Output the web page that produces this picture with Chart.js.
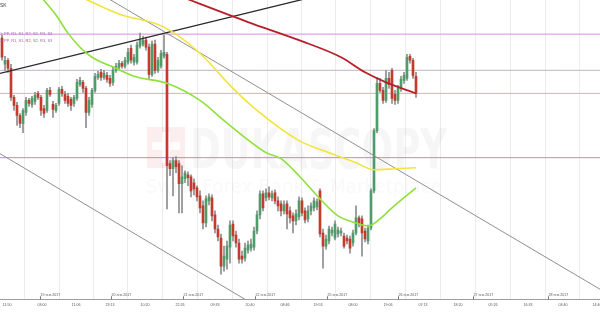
<!DOCTYPE html>
<html>
<head>
<meta charset="utf-8">
<script src="https://cdn.jsdelivr.net/npm/chart.js@4.4.1/dist/chart.umd.min.js"></script>
<style>
    html, body { margin: 0; padding: 0; background: #fff; }
    canvas { display: block; }
</style>
</head>
<body>
<canvas id="chart" width="600" height="320"></canvas>
<script>
// hourly candles
const openP = [
    1.0762, 1.0736, 1.0740, 1.0732, 1.0703, 1.0695, 1.0685, 1.0677, 1.0688, 1.0700,
    1.0696, 1.0699, 1.0707, 1.0703, 1.0692, 1.0690, 1.0710, 1.0696, 1.0690, 1.0697,
    1.0711, 1.0706, 1.0704, 1.0701, 1.0697, 1.0702, 1.0716, 1.0718, 1.0712, 1.0688,
    1.0696, 1.0710, 1.0723, 1.0728, 1.0723, 1.0725, 1.0722, 1.0718, 1.0730, 1.0733,
    1.0737, 1.0734, 1.0738, 1.0752, 1.0738, 1.0738, 1.0754, 1.0756, 1.0760, 1.0753,
    1.0726, 1.0756, 1.0730, 1.0734, 1.0744, 1.0746, 1.0637, 1.0632, 1.0640, 1.0637,
    1.0617, 1.0622, 1.0626, 1.0624, 1.0618, 1.0613, 1.0605, 1.0595, 1.0578, 1.0600,
    1.0603, 1.0586, 1.0572, 1.0563, 1.0535, 1.0542, 1.0554, 1.0577, 1.0566, 1.0558,
    1.0545, 1.0543, 1.0551, 1.0553, 1.0554, 1.0570, 1.0586, 1.0607, 1.0603, 1.0608,
    1.0603, 1.0608, 1.0600, 1.0597, 1.0590, 1.0597, 1.0590, 1.0585, 1.0580, 1.0584,
    1.0600, 1.0590, 1.0582, 1.0590, 1.0593, 1.0594, 1.0610, 1.0568, 1.0555, 1.0560,
    1.0568, 1.0563, 1.0567, 1.0568, 1.0565, 1.0563, 1.0562, 1.0558, 1.0568, 1.0583,
    1.0582, 1.0570, 1.0560, 1.0573, 1.0610, 1.0670, 1.0717, 1.0710, 1.0700, 1.0722,
    1.0730, 1.0706, 1.0700, 1.0712, 1.0720, 1.0722, 1.0744, 1.0740, 1.0724
];
const closeP = [
    1.0743, 1.0740, 1.0732, 1.0703, 1.0695, 1.0685, 1.0677, 1.0690, 1.0700, 1.0697,
    1.0702, 1.0705, 1.0703, 1.0690, 1.0687, 1.0710, 1.0706, 1.0691, 1.0695, 1.0711,
    1.0707, 1.0700, 1.0697, 1.0695, 1.0703, 1.0718, 1.0720, 1.0712, 1.0688, 1.0700,
    1.0710, 1.0724, 1.0726, 1.0723, 1.0727, 1.0721, 1.0717, 1.0730, 1.0734, 1.0737,
    1.0734, 1.0740, 1.0748, 1.0740, 1.0743, 1.0755, 1.0760, 1.0760, 1.0753, 1.0726,
    1.0756, 1.0730, 1.0740, 1.0747, 1.0748, 1.0635, 1.0632, 1.0640, 1.0634, 1.0617,
    1.0624, 1.0628, 1.0623, 1.0610, 1.0612, 1.0604, 1.0593, 1.0578, 1.0602, 1.0604,
    1.0585, 1.0572, 1.0564, 1.0535, 1.0545, 1.0555, 1.0576, 1.0565, 1.0558, 1.0542,
    1.0542, 1.0553, 1.0556, 1.0557, 1.0570, 1.0586, 1.0607, 1.0593, 1.0608, 1.0604,
    1.0607, 1.0600, 1.0595, 1.0590, 1.0596, 1.0587, 1.0583, 1.0580, 1.0587, 1.0600,
    1.0588, 1.0581, 1.0590, 1.0595, 1.0600, 1.0599, 1.0567, 1.0555, 1.0562, 1.0572,
    1.0571, 1.0577, 1.0571, 1.0570, 1.0555, 1.0560, 1.0553, 1.0568, 1.0583, 1.0577,
    1.0568, 1.0562, 1.0573, 1.0610, 1.0670, 1.0717, 1.0710, 1.0700, 1.0722, 1.0716,
    1.0702, 1.0700, 1.0712, 1.0721, 1.0725, 1.0743, 1.0740, 1.0725, 1.0707
];
const highP = [
    1.0765, 1.0744, 1.0742, 1.0736, 1.0705, 1.0698, 1.0687, 1.0692, 1.0703, 1.0702,
    1.0704, 1.0708, 1.0709, 1.0705, 1.0695, 1.0712, 1.0713, 1.0699, 1.0697, 1.0713,
    1.0714, 1.0709, 1.0707, 1.0703, 1.0705, 1.0721, 1.0723, 1.0720, 1.0714, 1.0703,
    1.0712, 1.0727, 1.0729, 1.0731, 1.0730, 1.0728, 1.0725, 1.0733, 1.0737, 1.0740,
    1.0739, 1.0743, 1.0752, 1.0755, 1.0746, 1.0758, 1.0767, 1.0764, 1.0763, 1.0756,
    1.0759, 1.0760, 1.0743, 1.0750, 1.0765, 1.0748, 1.0640, 1.0643, 1.0644, 1.0640,
    1.0635, 1.0630, 1.0629, 1.0626, 1.0622, 1.0615, 1.0610, 1.0600, 1.0605, 1.0607,
    1.0606, 1.0590, 1.0576, 1.0567, 1.0555, 1.0560, 1.0580, 1.0580, 1.0570, 1.0562,
    1.0550, 1.0558, 1.0560, 1.0562, 1.0574, 1.0590, 1.0610, 1.0610, 1.0612, 1.0614,
    1.0610, 1.0611, 1.0604, 1.0600, 1.0600, 1.0600, 1.0594, 1.0588, 1.0591, 1.0604,
    1.0603, 1.0593, 1.0595, 1.0598, 1.0603, 1.0602, 1.0612, 1.0572, 1.0566, 1.0575,
    1.0574, 1.0580, 1.0574, 1.0573, 1.0568, 1.0566, 1.0565, 1.0571, 1.0595, 1.0585,
    1.0585, 1.0573, 1.0576, 1.0612, 1.0672, 1.0723, 1.0722, 1.0713, 1.0730, 1.0728,
    1.0732, 1.0710, 1.0715, 1.0724, 1.0728, 1.0746, 1.0746, 1.0742, 1.0728
];
const lowP = [
    1.0740, 1.0730, 1.0728, 1.0700, 1.0690, 1.0675, 1.0673, 1.0668, 1.0685, 1.0694,
    1.0693, 1.0696, 1.0701, 1.0685, 1.0683, 1.0688, 1.0704, 1.0683, 1.0688, 1.0695,
    1.0704, 1.0697, 1.0694, 1.0690, 1.0694, 1.0700, 1.0714, 1.0708, 1.0673, 1.0685,
    1.0693, 1.0708, 1.0721, 1.0720, 1.0721, 1.0718, 1.0714, 1.0715, 1.0728, 1.0731,
    1.0732, 1.0732, 1.0736, 1.0737, 1.0735, 1.0736, 1.0752, 1.0754, 1.0750, 1.0722,
    1.0724, 1.0727, 1.0728, 1.0732, 1.0742, 1.0592, 1.0625, 1.0605, 1.0628, 1.0588,
    1.0588, 1.0618, 1.0615, 1.0604, 1.0606, 1.0600, 1.0588, 1.0572, 1.0574, 1.0596,
    1.0580, 1.0568, 1.0560, 1.0527, 1.0530, 1.0532, 1.0538, 1.0560, 1.0554, 1.0538,
    1.0538, 1.0540, 1.0548, 1.0550, 1.0551, 1.0567, 1.0582, 1.0590, 1.0600, 1.0601,
    1.0600, 1.0597, 1.0590, 1.0585, 1.0587, 1.0572, 1.0578, 1.0568, 1.0576, 1.0581,
    1.0585, 1.0578, 1.0579, 1.0586, 1.0590, 1.0591, 1.0564, 1.0533, 1.0552, 1.0557,
    1.0565, 1.0561, 1.0564, 1.0565, 1.0553, 1.0557, 1.0548, 1.0555, 1.0566, 1.0574,
    1.0545, 1.0559, 1.0557, 1.0571, 1.0608, 1.0668, 1.0708, 1.0697, 1.0698, 1.0712,
    1.0697, 1.0696, 1.0697, 1.0709, 1.0717, 1.0720, 1.0737, 1.0722, 1.0703
];

// moving averages (candle index -> price)
const redMaX = [60, 82, 99, 113, 121, 128, 138];
const redMaY = [1.0803, 1.0778, 1.0760, 1.0743, 1.0728, 1.0718, 1.0707];
const yellowMaX = [27, 39, 54, 66, 76, 85, 99, 109, 118, 124, 131, 138];
const yellowMaY = [1.0802, 1.0786, 1.0773, 1.0747, 1.0715, 1.0690, 1.0660, 1.0648, 1.0638, 1.0631, 1.0632, 1.0633];
const greenMaX = [13, 18, 22, 26, 30, 38, 44, 55, 66, 74, 81, 88, 93, 99, 106, 112, 118, 122, 126, 130, 138];
const greenMaY = [1.0803, 1.0785, 1.0767, 1.0753, 1.0743, 1.0732, 1.0724, 1.0717, 1.0700, 1.0680, 1.0663, 1.0648, 1.0642, 1.0625, 1.0602, 1.0585, 1.0578, 1.0575, 1.0582, 1.0593, 1.0613];

// pivot levels and trend lines
const pivotLevels = [1.0766, 1.0730, 1.0707, 1.0643];
const pivotColors = ['#d58fdf', '#bdb6c6', '#ccbab6', '#b08fd0'];
const blackTrendX = [-0.667, 120];
const blackTrendY = [1.0727, 1.0815];
const upperGrayX = [30, 199.333];
const upperGrayY = [1.0811, 1.0512];
const lowerGrayX = [-0.667, 90];
const lowerGrayY = [1.0647, 1.0486];

// axis labels
const timeTickPos = [1.67, 13.33, 24.67, 36, 47.67, 59.33, 71, 82.67, 94.33, 105.33, 117, 128.67, 140.33, 152, 163.67, 175.33, 187, 198.33];
const timeLabels = ['11:50', '03:00', '11:06', '23:13', '10:20', '22:26', '09:33', '20:40', '08:46', '19:53', '08:00', '19:06', '07:13', '18:20', '05:26', '16:33', '03:40', '14:46'];
const datePos = [12.67, 36.33, 60.33, 84.33, 108.33, 132, 157, 182];
const dateLabels = ['19 янв 2017', '20 янв 2017', '21 янв 2017', '22 янв 2017', '25 янв 2017', '26 янв 2017', '27 янв 2017', '28 янв 2017'];

const X_MIN = -0.667;
const X_MAX = 199.333;
const Y_MIN = 1.0502;
const Y_MAX = 1.0800;

const UP = '#4f9c6b';
const DOWN = '#c33b2d';

function pts(xs, ys) {
    return xs.map((x, i) => ({ x: x, y: ys[i] }));
}

const wickData = lowP.map((lo, i) => ({ x: i, y: [lo, highP[i]] }));
const bodyData = openP.map((o, i) => ({ x: i, y: [o, closeP[i]] }));
const bodyColors = openP.map((o, i) => closeP[i] >= o ? UP : DOWN);

const datasets = [];

pivotLevels.forEach((lvl, i) => {
    datasets.push({
        type: 'line',
        data: [{ x: X_MIN, y: lvl }, { x: X_MAX, y: lvl }],
        borderColor: pivotColors[i],
        borderWidth: 1,
        pointRadius: 0,
        order: 6
    });
});

datasets.push({
    type: 'bar', data: wickData, backgroundColor: '#8d8d8d',
    barThickness: 1, grouped: false, minBarLength: 1, order: 5
});
datasets.push({
    type: 'bar', data: bodyData, backgroundColor: bodyColors,
    barThickness: 2, grouped: false, minBarLength: 1, order: 4
});

const lineStyle = { type: 'line', pointRadius: 0, fill: false, order: 2 };
datasets.push(Object.assign({}, lineStyle, { data: pts(blackTrendX, blackTrendY), borderColor: '#2b2b2b', borderWidth: 1.3 }));
datasets.push(Object.assign({}, lineStyle, { data: pts(upperGrayX, upperGrayY), borderColor: '#8f8f8f', borderWidth: 1 }));
datasets.push(Object.assign({}, lineStyle, { data: pts(lowerGrayX, lowerGrayY), borderColor: '#8f8f8f', borderWidth: 1 }));

const maStyle = { type: 'line', pointRadius: 0, fill: false, cubicInterpolationMode: 'monotone', order: 1 };
datasets.push(Object.assign({}, maStyle, { data: pts(yellowMaX, yellowMaY), borderColor: '#f2e43c', borderWidth: 1.6 }));
datasets.push(Object.assign({}, maStyle, { data: pts(greenMaX, greenMaY), borderColor: '#8fe03a', borderWidth: 1.6 }));
datasets.push(Object.assign({}, maStyle, { data: pts(redMaX, redMaY), borderColor: '#b81f29', borderWidth: 1.8 }));

// watermark, date row and the small header texts
const overlayPlugin = {
    id: 'overlay',
    beforeDatasetsDraw(chart) {
        const ctx = chart.ctx;
        ctx.save();
        ctx.fillStyle = 'rgba(220, 70, 70, 0.09)';
        ctx.fillRect(147, 127, 38, 41);
        ctx.fillStyle = 'rgba(255, 255, 255, 0.8)';
        ctx.fillRect(162, 132, 8, 31);
        ctx.fillRect(152, 142, 28, 8);
        ctx.fillStyle = 'rgba(120, 120, 120, 0.065)';
        ctx.font = 'bold 56px "DejaVu Sans"';
        ctx.textBaseline = 'alphabetic';
        ctx.fillText('DUKASCOPY', 190, 168, 257);
        ctx.fillStyle = 'rgba(120, 120, 120, 0.045)';
        ctx.font = '20px "DejaVu Sans"';
        ctx.fillText('Swiss Forex Bank & Marketplace', 146, 193, 296);
        ctx.restore();
    },
    afterDraw(chart) {
        const ctx = chart.ctx;
        const xs = chart.scales.x;
        const bottom = chart.chartArea.bottom;
        ctx.save();
        ctx.font = '3.6px "Liberation Sans"';
        ctx.fillStyle = '#555';
        ctx.strokeStyle = '#777';
        ctx.lineWidth = 1;
        ctx.textBaseline = 'alphabetic';
        datePos.forEach((p, i) => {
            const px = Math.round(xs.getPixelForValue(p)) + 0.5;
            ctx.beginPath();
            ctx.moveTo(px, bottom - 3);
            ctx.lineTo(px, bottom);
            ctx.stroke();
            ctx.fillText(dateLabels[i], px, bottom - 3);
        });

        ctx.font = '5px "Liberation Sans"';
        ctx.fillStyle = '#444';
        ctx.fillText('SK', 0, 7);

        ctx.font = '4px "Liberation Sans"';
        ctx.fillStyle = '#a766bf';
        ctx.fillText('D: PP, R1, S1, R2, S2, R3, S3', -1, 35);

        const parts = ['D: ', 'PP, ', 'R1, ', 'S1, ', 'R2, ', 'S2, ', 'R3, ', 'S3'];
        const partColors = ['#8a5fb0', '#9a62b6', '#b05e98', '#8a6fb5', '#c24a4a', '#4fa04f', '#a062c0', '#7f80c0'];
        let x = -1;
        parts.forEach((t, i) => {
            ctx.fillStyle = partColors[i];
            ctx.fillText(t, x, 41.5);
            x += ctx.measureText(t).width;
        });
        ctx.restore();
    }
};

new Chart(document.getElementById('chart'), {
    type: 'bar',
    data: { datasets: datasets },
    plugins: [overlayPlugin],
    options: {
        responsive: false,
        animation: false,
        events: [],
        layout: { padding: { left: 0, right: 0, top: 0, bottom: 8.4 } },
        plugins: { legend: { display: false }, tooltip: { enabled: false } },
        scales: {
            x: {
                type: 'linear',
                min: X_MIN,
                max: X_MAX,
                offset: false,
                afterBuildTicks: (scale) => {
                    scale.ticks = timeTickPos.map(v => ({ value: v }));
                },
                afterFit: (scale) => {
                    scale.paddingLeft = 0;
                    scale.paddingRight = 0;
                },
                ticks: {
                    autoSkip: false,
                    maxRotation: 0,
                    padding: 4,
                    color: '#555',
                    font: { size: 3.6, family: '"Liberation Sans"' },
                    callback: (v, i) => timeLabels[i]
                },
                grid: { color: '#ececec', drawTicks: false },
                border: { color: '#9d9d9d', width: 1 }
            },
            y: {
                display: false,
                min: Y_MIN,
                max: Y_MAX
            }
        }
    }
});
</script>
</body>
</html>
